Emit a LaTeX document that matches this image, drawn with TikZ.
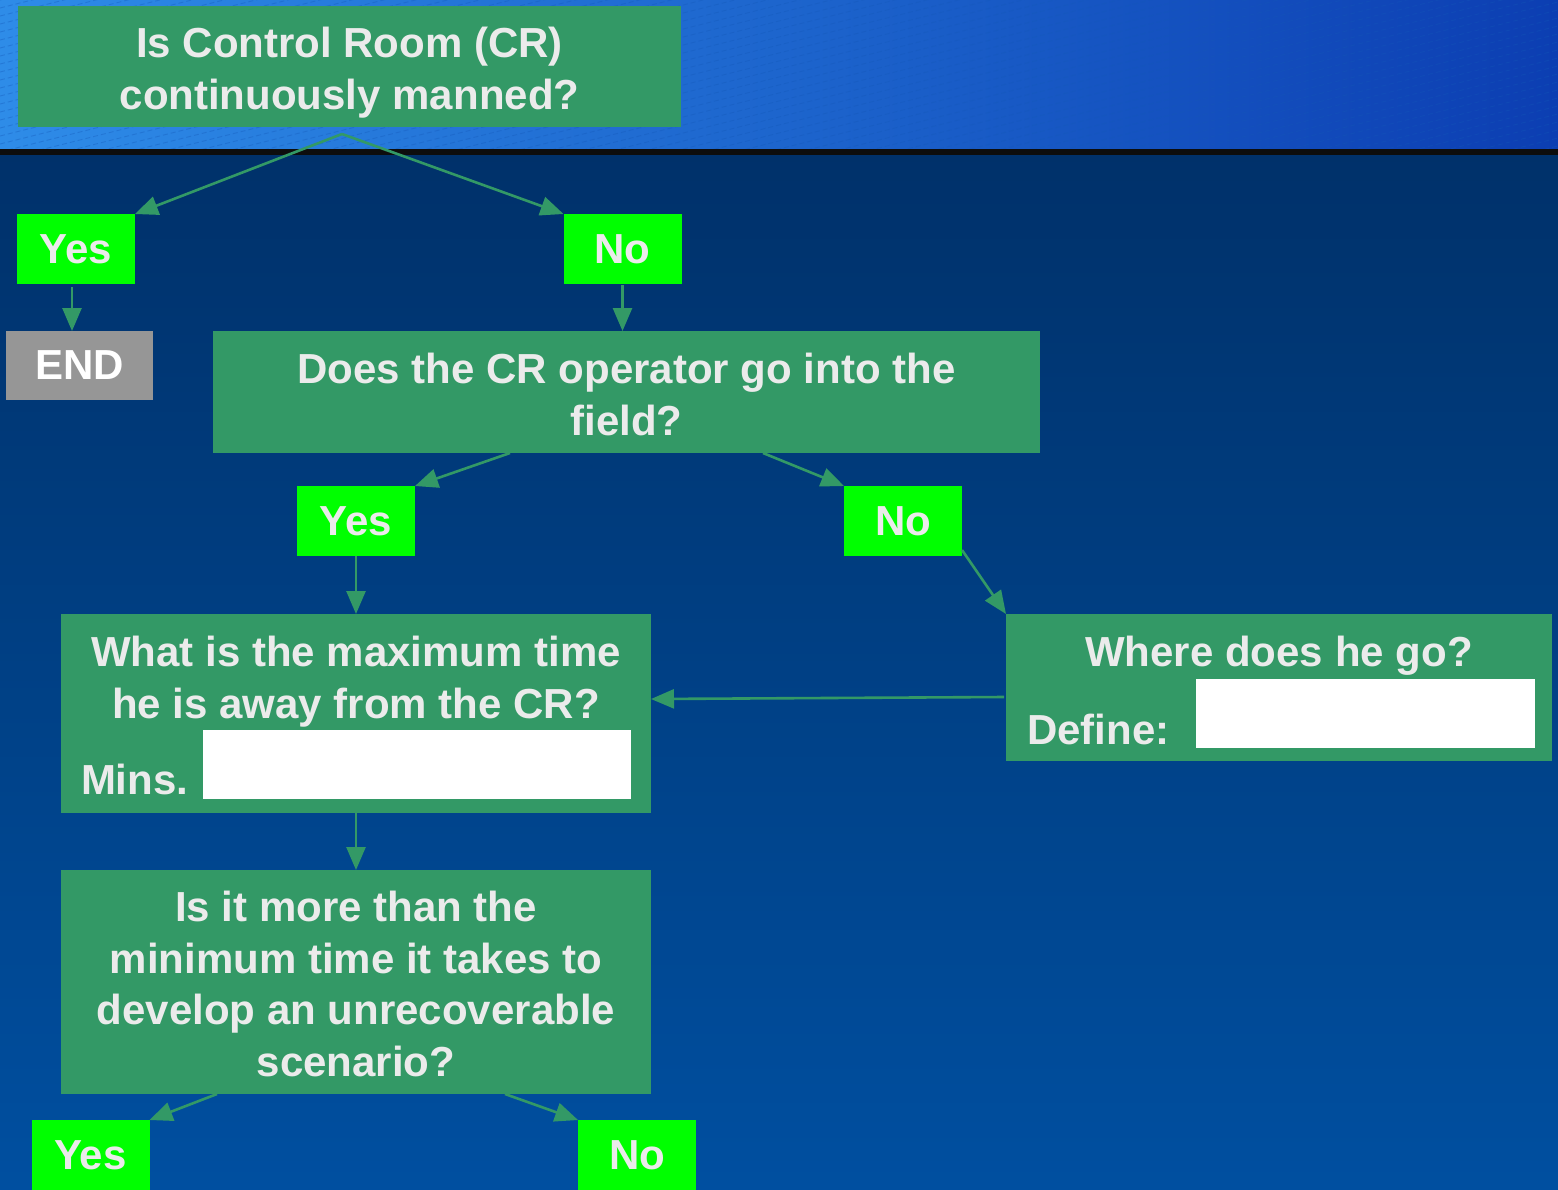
\documentclass[tikz,border=0pt]{standalone}
\usepackage{fontspec}
\setmainfont{Liberation Sans}
\usetikzlibrary{arrows.meta,calc}

\definecolor{qgreen}{HTML}{339966}
\definecolor{limegreen}{HTML}{00FF00}
\definecolor{endgray}{HTML}{969696}
\definecolor{lighttext}{HTML}{EBEBEB}
\definecolor{bandleft}{HTML}{2E8CE8}
\definecolor{bandright}{HTML}{0C3EB2}
\definecolor{bandstripe}{HTML}{1458B8}
\definecolor{bgtop}{HTML}{00316A}
\definecolor{bgbottom}{HTML}{004FA0}

\begin{document}
\begin{tikzpicture}[x=1pt,y=-1pt,
  block/.style={fill=qgreen, inner sep=0pt, outer sep=0pt},
  answer/.style={fill=limegreen, inner sep=0pt, outer sep=0pt,
    minimum width=118pt, minimum height=70pt,
    text=lighttext, font=\fontsize{42}{51.5}\selectfont\bfseries},
  endbox/.style={fill=endgray, inner sep=0pt, outer sep=0pt,
    text=white, font=\fontsize{42}{51.5}\selectfont\bfseries},
  blank/.style={fill=white, inner sep=0pt, outer sep=0pt},
  label/.style={text=lighttext, inner sep=0pt, outer sep=0pt,
    font=\fontsize{42}{51.5}\selectfont\bfseries, align=center, anchor=base},
  flow/.style={draw=qgreen, line width=2.6pt,
    -{Triangle[length=23pt,width=19pt]}}
]
\useasboundingbox (0,0) rectangle (1558,1189);

% background: title band with fine diagonal hatching, rule, body gradient
\shade[top color=bgtop, bottom color=bgbottom] (0,152) rectangle (1558,1189);
\shade[left color=bandleft, right color=bandright] (0,0) rectangle (1558,150);
\begin{scope}
  \clip (0,0) rectangle (1558,150);
  \foreach \k in {0,8,...,560}
    \draw[bandstripe, opacity=0.35, line width=0.9pt, dash pattern=on 5pt off 3pt]
      (0,\k) -- (1558,\k-390);
\end{scope}
\fill[black!95] (0,149) rectangle (1558,155);

% question blocks
\node[block, minimum width=663pt, minimum height=121pt] (q1) at (349.5,66.5) {};
\node[block, minimum width=827pt, minimum height=122pt] (q2) at (626.5,392) {};
\node[block, minimum width=590pt, minimum height=199pt] (q3) at (356,713.5) {};
\node[block, minimum width=546pt, minimum height=147pt] (q4) at (1279,687.5) {};
\node[block, minimum width=590pt, minimum height=224pt] (q5) at (356,982) {};

% entry fields
\node[blank, minimum width=428pt, minimum height=69pt] (mins) at (417,764.5) {};
\node[blank, minimum width=339pt, minimum height=69pt] (where) at (1365.5,713.5) {};

% question texts (anchored at the baseline of the last line)
\node[label] (t1) at (349.5,109) {Is Control Room (CR)\\continuously manned?};
\node[label] (t2) at (626.5,435) {Does the CR operator go into the\\field?};
\node[label] (t3) at (356,718) {What is the maximum time\\he is away from the CR?};
\node[label, anchor=base west] (t3b) at (81,794) {Mins.};
\node[label] (t4) at (1279,666) {Where does he go?};
\node[label, anchor=base west] (t4b) at (1027,744) {Define:};
\node[label] (t5) at (356,1076) {Is it more than the\\minimum time it takes to\\develop an unrecoverable\\scenario?};

% answers
\node[answer] (yes1) at (76,249) {Yes};
\node[answer] (no1) at (622.5,249) {No};
\node[endbox, minimum width=147pt, minimum height=69pt] (end) at (79.5,365.5) {END};
\node[answer] (yes2) at (356,521) {Yes};
\node[answer] (no2) at (903,521) {No};
\node[answer] (yes3) at (90.5,1155) {Yes};
\node[answer] (no3) at (637,1155) {No};

% connectors
\coordinate (q1fork) at ([xshift=-7.5pt,yshift=-7pt]q1.south);
\draw[flow] (q1fork) -- (yes1.north east);
\draw[flow] (q1fork) -- (no1.north west);
\draw[flow] ([xshift=-4pt,yshift=-3pt]yes1.south) -- ([xshift=-4pt]yes1.south |- end.north);
\draw[flow] ([yshift=-1pt]no1.south) -- (no1.south |- q2.north);
\draw[flow] ([xshift=-116.5pt]q2.south) -- (yes2.north east);
\draw[flow] ([xshift=136.5pt]q2.south) -- (no2.north west);
\draw[flow] (yes2.south) -- (q3.north);
\draw[flow] ([yshift=6pt]no2.south east) -- (q4.north west);
\draw[flow] ([xshift=-2pt,yshift=-9.5pt]q4.west) -- ([yshift=14.5pt]q3.east);
\draw[flow] (q3.south) -- (q5.north);
\draw[flow] ([xshift=-139pt]q5.south) -- (yes3.north east);
\draw[flow] ([xshift=149pt]q5.south) -- (no3.north west);
\end{tikzpicture}
\end{document}
